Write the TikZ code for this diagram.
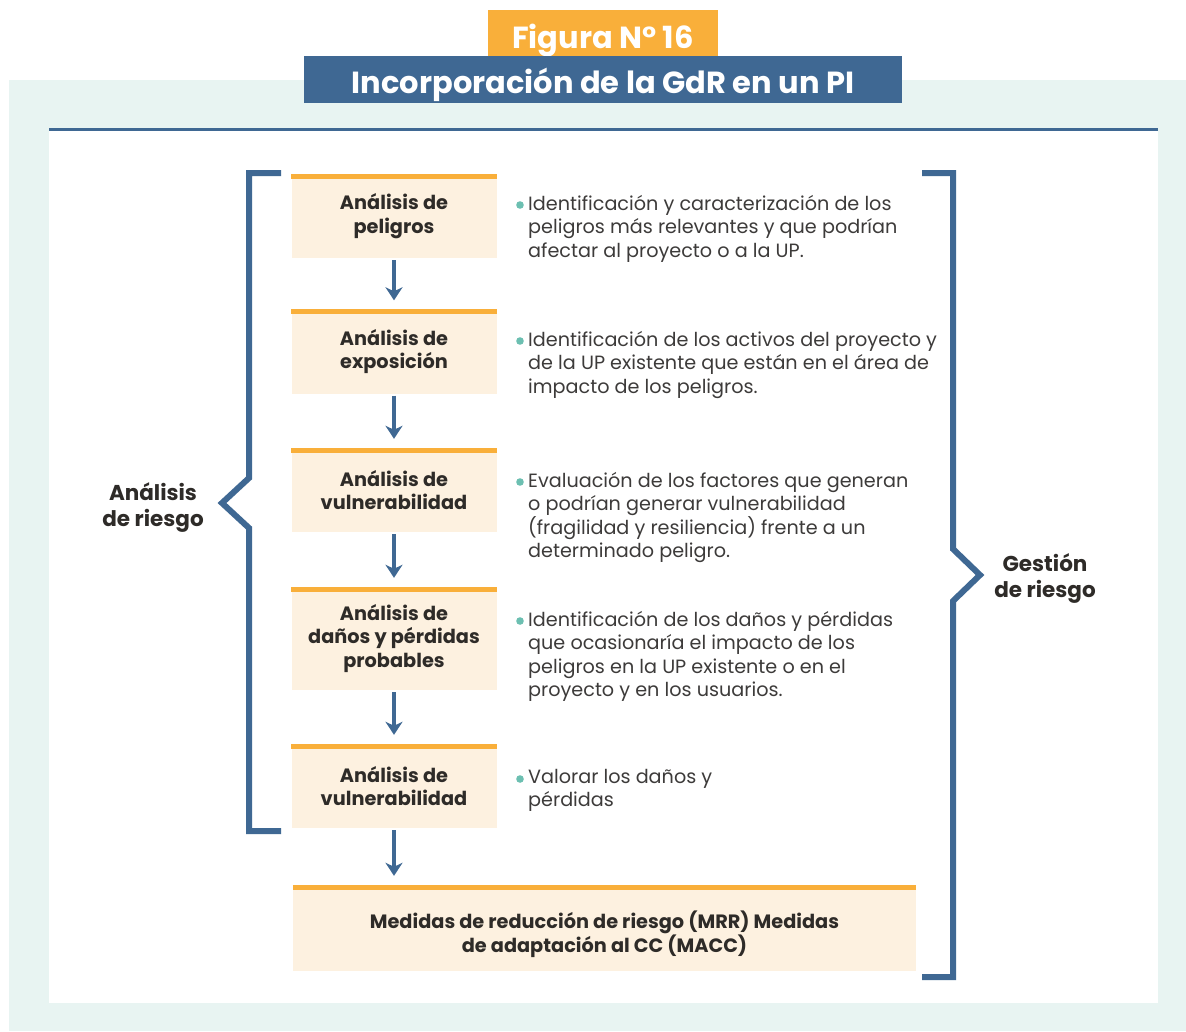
\documentclass[tikz,border=0pt]{standalone}
\usepackage{fontspec}
\setmainfont{Poppins}
\usetikzlibrary{arrows.meta,calc,positioning}

\definecolor{panelgreen}{HTML}{E8F4F2}
\definecolor{figorange}{HTML}{F9AF3A}
\definecolor{gdrblue}{HTML}{3F6893}
\definecolor{boxpeach}{HTML}{FDF1E0}
\definecolor{inkdark}{HTML}{2E2B28}
\definecolor{inkgray}{HTML}{3D3B3A}
\definecolor{dotteal}{HTML}{6CBFB1}

\newcommand{\boxfont}{\fontsize{19.3}{23.5}\selectfont\bfseries}
\newcommand{\descfont}{\fontsize{19.2}{23.5}\selectfont}
\newcommand{\sidefont}{\fontsize{21.5}{26}\selectfont\bfseries}
\newcommand{\titlefont}{\fontsize{30.5}{32}\selectfont\bfseries}

\tikzset{
  stepbox/.style={fill=boxpeach, minimum width=205pt, minimum height=84pt, inner sep=0pt,
    align=center, font=\boxfont, text=inkdark},
  topbar/.style={draw=figorange, line width=5pt},
  flow/.style={draw=gdrblue, line width=4.5pt, shorten <=2pt, shorten >=9pt,
    -{Stealth[length=13pt,width=17pt,inset=4pt]}},
  desc/.style={anchor=north west, inner sep=0pt, align=left, font=\descfont, text=inkgray},
  sidelabel/.style={align=center, inner sep=0pt, font=\sidefont, text=inkdark},
  titlebox/.style={inner sep=0pt, font=\titlefont, text=white, text depth=2pt},
  brace/.style={draw=gdrblue, line width=6pt, miter limit=10}
}

\begin{document}
\begin{tikzpicture}[x=1pt, y=-1pt]
			%%%%% START %%%%%
			\useasboundingbox (0,0) rectangle (1186,1031);
			
			% panel
			\fill[panelgreen] (9,80) rectangle (1186,1031);
			\fill[white] (49,129) rectangle (1158,1003);
			\draw[gdrblue, line width=3pt] (49,129.5) -- (1158,129.5);
			
			% title
			\node[titlebox, fill=figorange, minimum width=230pt, minimum height=46pt,
				text height=32pt] (fig) at (603,33) {Figura N° 16};
			\node[titlebox, fill=gdrblue, minimum width=598pt, minimum height=47pt,
				text height=29pt] (tit) at (603,79.5) {Incorporación de la GdR en un PI};
			
			% steps
			\node[stepbox] (p1) at (394,216) {Análisis de\\peligros};
			\node[stepbox] (p2) at (394,351.5) {Análisis de\\exposición};
			\node[stepbox] (p3) at (394,490) {Análisis de\\vulnerabilidad};
			\node[stepbox, minimum height=103pt] (p4) at (394,638.5) {Análisis de\\daños y pérdidas\\probables};
			\node[stepbox] (p5) at (394,786) {Análisis de\\vulnerabilidad};
			\node[stepbox, minimum width=623pt, minimum height=86pt] (pm) at (604.5,928) {};
			\node[stepbox, fill=none, minimum width=0pt, minimum height=0pt] (pmtext)
				at ([yshift=-6pt]pm.center) {Medidas de reducción de riesgo (MRR) Medidas\\de adaptación al CC (MACC)};
			
			\foreach \p in {p1,p2,p3,p4,p5,pm}
				\draw[topbar] ([yshift=-2.5pt]\p.north west) -- ([yshift=-2.5pt]\p.north east);
			
			\draw[flow] (p1.south) -- (p2.north);
			\draw[flow] (p2.south) -- (p3.north);
			\draw[flow] (p3.south) -- (p4.north);
			\draw[flow] (p4.south) -- (p5.north);
			\draw[flow] (p5.south) -- (p5.south |- pm.north);
			
			% descriptions
			\node[desc] (d1) at (528,195) {Identificación y caracterización de los\\peligros más relevantes y que podrían\\afectar al proyecto o a la UP.};
			\node[desc] (d2) at (528,331) {Identificación de los activos del proyecto y\\de la UP existente que están en el área de\\impacto de los peligros.};
			\node[desc] (d3) at (528,472) {Evaluación de los factores que generan\\o podrían generar vulnerabilidad\\(fragilidad y resiliencia) frente a un\\determinado peligro.};
			\node[desc] (d4) at (528,611) {Identificación de los daños y pérdidas\\que ocasionaría el impacto de los\\peligros en la UP existente o en el\\proyecto y en los usuarios.};
			\node[desc] (d5) at (528,769) {Valorar los daños y\\pérdidas};
			
			\foreach \d in {d1,d2,d3,d4,d5}
				\fill[dotteal] ($(\d.north west)+(-8,10)$) circle (3.8pt);
			
			% brackets
			\draw[brace] (281,173) -- (249,173) -- (249,478) -- (222,503) -- (249,528) -- (249,831) -- (281,831);
			\draw[brace] (922,173) -- (953,173) -- (953,549) -- (980,575) -- (953,601) -- (953,977) -- (922,977);
			
			\node[sidelabel] (ar) at (153,508) {Análisis\\de riesgo};
			\node[sidelabel] (gr) at (1045,578) {Gestión\\de riesgo};
			
			%%%%% END %%%%%
\end{tikzpicture}
\end{document}
